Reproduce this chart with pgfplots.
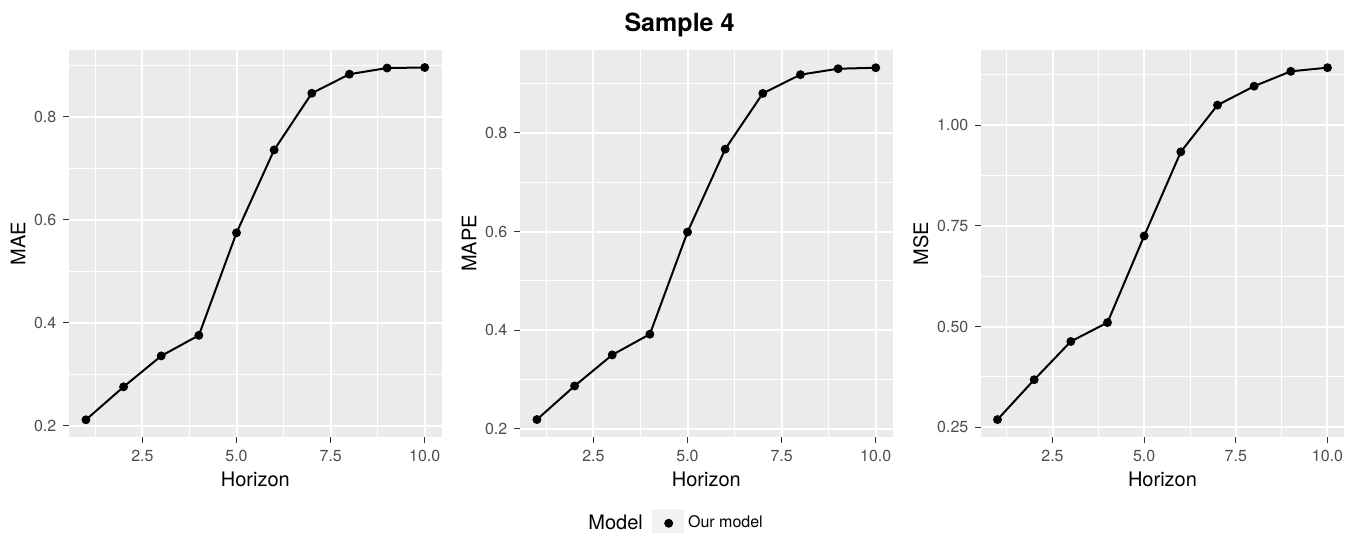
\documentclass[border=0pt]{standalone}
\usepackage{fontspec}
\setmainfont{TeX Gyre Heros}
\usepackage{pgfplots}
\pgfplotsset{compat=1.18}

\definecolor{ggbg}{HTML}{EBEBEB}
\definecolor{ggkey}{HTML}{F2F2F2}
\definecolor{ggtick}{HTML}{333333}
\definecolor{ggtext}{HTML}{4D4D4D}

\pgfplotsset{
  ggpanel/.style={
    scale only axis, width=186.35pt, height=193.65pt,
    anchor=south west,
    xmin=0.55, xmax=10.45,
    axis background/.style={fill=ggbg},
    axis line style={draw=none},
    xtick={2.5,5,7.5,10},
    minor xtick={1.25,3.75,6.25,8.75},
    grid=both,
    major grid style={white, line width=1pt},
    minor grid style={white, line width=0.5pt},
    tick align=outside,
    xtick pos=lower, ytick pos=left,
    major tick length=2.8pt,
    minor tick length=0pt,
    major tick style={ggtick, line width=0.5pt},
    ticklabel style={font=\fontsize{8}{9}\selectfont, text=ggtext},
    /pgf/number format/assume math mode=true,
    xticklabel style={/pgf/number format/fixed, /pgf/number format/fixed zerofill, /pgf/number format/precision=1},
    label style={font=\fontsize{10}{12}\selectfont},
    xlabel={Horizon},
    xlabel style={yshift=1.5pt},
    ylabel style={yshift=-2.5pt},
  },
  ggline/.style={black, line width=1pt, mark=*, mark size=1.7pt, mark options={fill=black}},
}

\begin{document}
\begin{tikzpicture}
\useasboundingbox (0,0) rectangle (679.5pt,266.5pt);

\begin{axis}[ggpanel, at={(34.5pt,47.85pt)},
  ymin=0.178, ymax=0.930,
  ytick={0.2,0.4,0.6,0.8}, minor ytick={0.3,0.5,0.7,0.9},
  yticklabel style={/pgf/number format/fixed, /pgf/number format/fixed zerofill, /pgf/number format/precision=1},
  ylabel={MAE}]
\addplot[ggline] coordinates {(1,0.212) (2,0.276) (3,0.336) (4,0.376) (5,0.575) (6,0.736) (7,0.846) (8,0.883) (9,0.895) (10,0.896)};
\end{axis}

\begin{axis}[ggpanel, at={(260pt,47.85pt)},
  ymin=0.183, ymax=0.968,
  ytick={0.2,0.4,0.6,0.8}, minor ytick={0.3,0.5,0.7,0.9},
  yticklabel style={/pgf/number format/fixed, /pgf/number format/fixed zerofill, /pgf/number format/precision=1},
  ylabel={MAPE},
  legend style={at={(axis description cs:0.3534,-0.222)}, anchor=west, draw=none, fill=none,
    inner sep=0pt, font=\fontsize{8}{9}\selectfont},
  legend image code/.code={
    \fill[ggkey] (0pt,-6.75pt) rectangle (15pt,6.75pt);
    \fill[black] (7.8pt,0pt) circle (1.7pt);
  }]
\addplot[ggline] coordinates {(1,0.219) (2,0.287) (3,0.350) (4,0.392) (5,0.599) (6,0.767) (7,0.880) (8,0.918) (9,0.930) (10,0.932)};
\addlegendentry{Our model}
\end{axis}

\begin{axis}[ggpanel, at={(490.5pt,47.85pt)}, width=181.5pt,
  ymin=0.225, ymax=1.187,
  ytick={0.25,0.5,0.75,1.0}, minor ytick={0.375,0.625,0.875,1.125},
  yticklabel style={/pgf/number format/fixed, /pgf/number format/fixed zerofill, /pgf/number format/precision=2},
  ylabel={MSE}]
\addplot[ggline] coordinates {(1,0.269) (2,0.368) (3,0.463) (4,0.510) (5,0.725) (6,0.934) (7,1.050) (8,1.097) (9,1.134) (10,1.143)};
\end{axis}

\node[anchor=base, font=\fontsize{12.5}{15}\selectfont\bfseries] at (339.75pt,250.5pt) {Sample 4};
\node[anchor=base west, inner sep=0pt, font=\fontsize{10}{12}\selectfont] at (294pt,1.85pt) {Model};
\end{tikzpicture}
\end{document}
